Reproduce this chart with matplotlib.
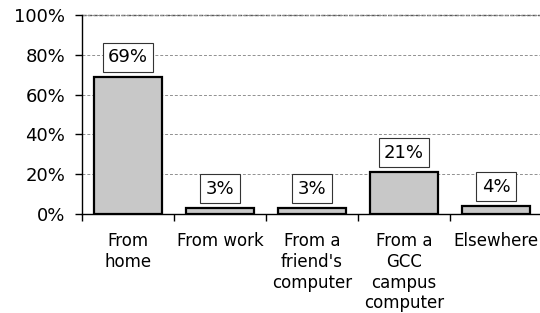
import matplotlib.pyplot as plt
import numpy as np

categories = ["From\nhome", "From work", "From a\nfriend's\ncomputer",
              "From a\nGCC\ncampus\ncomputer", "Elsewhere"]
values = [69, 3, 3, 21, 4]
yticks = [0, 20, 40, 60, 80, 100]

plt.rcParams['font.family'] = 'DejaVu Sans'
plt.rcParams['font.size'] = 12

fig = plt.figure(figsize=(5.4, 3.13), dpi=100)
ax = fig.add_axes([82/540, 99/313, 460/540, 199/313])

x = np.arange(len(categories))
ax.bar(x, values, width=0.74, color='#c8c8c8', edgecolor='black', linewidth=1.6, zorder=3)

for xi, v in zip(x, values):
    ax.annotate(f"{v}%", (xi, v), xytext=(0, 7.5), textcoords='offset points',
                ha='center', va='bottom', color='black', fontsize=13,
                bbox=dict(boxstyle='square,pad=0.3', fc='white', ec='#333333', lw=0.8),
                zorder=4)

ax.set_xlim(-0.5, len(categories) - 0.5)
ax.set_ylim(0, 100)
ax.set_yticks(yticks)
ax.set_yticklabels([f"{t}%" for t in yticks])
ax.yaxis.grid(True, linestyle=(0, (3, 2)), color='#909090', linewidth=0.7, zorder=0)
ax.axhline(100, color='#555555', linestyle=(0, (3, 1)), linewidth=1.0, zorder=1, clip_on=False)

ax.set_xticks(np.arange(len(categories) + 1) - 0.5)
ax.set_xticklabels([])
ax.set_xticks(x, minor=True)
ax.set_xticklabels(categories, minor=True, linespacing=1.2, va='top')
ax.tick_params(axis='x', which='minor', length=0, pad=13)
ax.tick_params(axis='x', which='major', length=5, width=1, direction='out')
ax.tick_params(axis='y', length=5, width=1, pad=7, labelsize=13)

for s in ['top', 'right']:
    ax.spines[s].set_visible(False)
ax.spines['left'].set_linewidth(1)
ax.spines['bottom'].set_linewidth(1)

fig.savefig('out.png', dpi=100)
